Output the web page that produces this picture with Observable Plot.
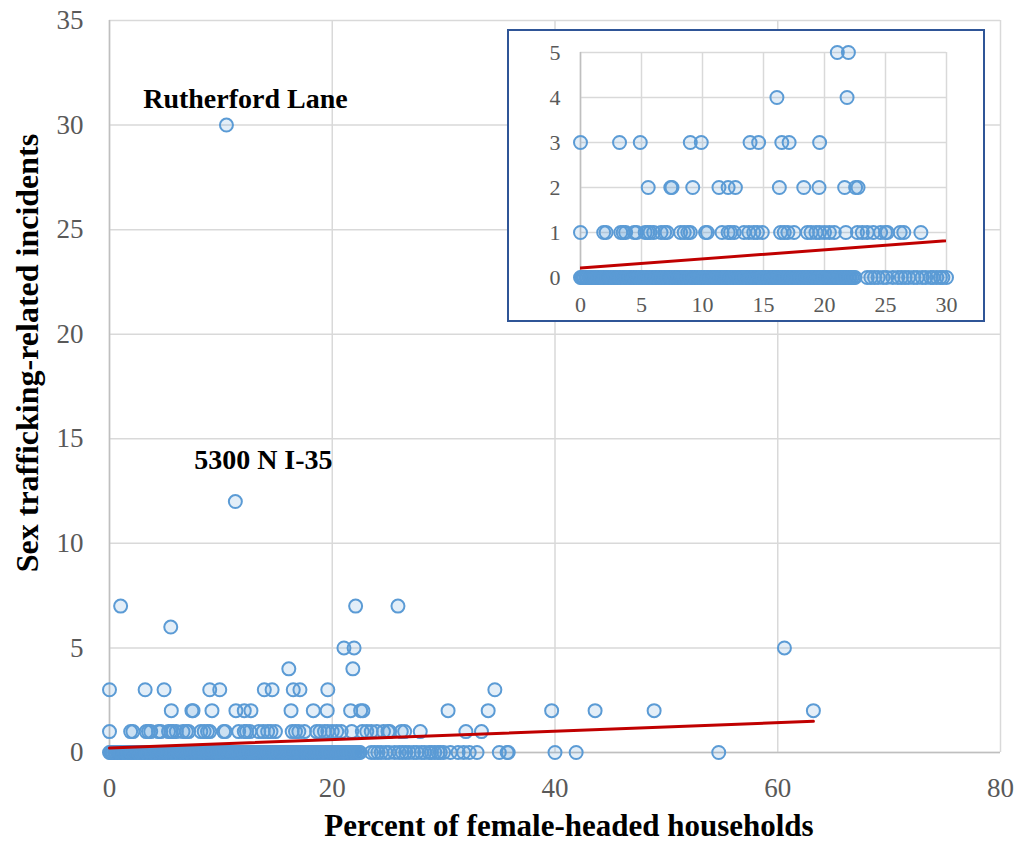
<!DOCTYPE html>
<html>
<head>
<meta charset="utf-8">
<script src="https://cdn.jsdelivr.net/npm/d3@7"></script>
<script src="https://cdn.jsdelivr.net/npm/@observablehq/plot@0.6"></script>
<style>
  html, body { margin: 0; padding: 0; background: #fff; }
  #wrap { position: relative; width: 1022px; height: 844px; }
  #inset { position: absolute; left: 507px; top: 29px; width: 478px; height: 293px;
           box-sizing: border-box; border: 2px solid #2F5597; background: #fff; }
  svg { display: block; }
</style>
</head>
<body>
<div id="wrap"><div id="main"></div><div id="inset"></div></div>
<script>
// Percent of female-headed households for tracts, grouped by number of incidents
const incidents0 = [0, 0.1, 0.2, 0.3, 0.45, 0.55, 0.7, 0.8, 0.9, 1.05, 1.2, 1.3, 1.4, 1.55, 1.65, 1.8, 1.9, 2.0, 2.15, 2.3, 2.4, 2.5, 2.6, 2.75, 2.85, 3.0, 3.1, 3.2, 3.3, 3.45, 3.6, 3.7, 3.8, 3.95, 4.05, 4.2, 4.3, 4.4, 4.5, 4.65, 4.75, 4.9, 5.0, 5.1, 5.25, 5.4, 5.5, 5.6, 5.7, 5.85, 5.95, 6.1, 6.2, 6.3, 6.45, 6.55, 6.65, 6.8, 6.9, 7.05, 7.15, 7.3, 7.4, 7.5, 7.6, 7.75, 7.85, 8.0, 8.1, 8.25, 8.35, 8.45, 8.55, 8.7, 8.8, 8.95, 9.05, 9.2, 9.3, 9.4, 9.5, 9.65, 9.75, 9.9, 10.0, 10.1, 10.2, 10.35, 10.45, 10.6, 10.7, 10.85, 10.95, 11.05, 11.15, 11.3, 11.4, 11.55, 11.65, 11.8, 11.9, 12.0, 12.1, 12.25, 12.35, 12.5, 12.6, 12.75, 12.85, 12.95, 13.05, 13.2, 13.3, 13.45, 13.55, 13.7, 13.8, 13.9, 14.0, 14.15, 14.25, 14.4, 14.5, 14.65, 14.75, 14.85, 14.95, 15.1, 15.2, 15.35, 15.45, 15.6, 15.7, 15.8, 15.9, 16.05, 16.15, 16.3, 16.4, 16.55, 16.65, 16.75, 16.85, 17.0, 17.1, 17.25, 17.35, 17.5, 17.6, 17.7, 17.8, 17.95, 18.05, 18.2, 18.3, 18.45, 18.55, 18.65, 18.75, 18.9, 19.0, 19.15, 19.25, 19.4, 19.5, 19.6, 19.7, 19.85, 19.95, 20.1, 20.2, 20.35, 20.45, 20.55, 20.65, 20.8, 20.9, 21.05, 21.15, 21.3, 21.4, 21.5, 21.6, 21.75, 21.85, 22.0, 22.1, 22.25, 22.4, 22.5, 23.5, 23.8, 24.1, 24.4, 24.8, 25.1, 25.6, 26.0, 26.3, 26.6, 26.9, 27.3, 27.6, 28.0, 28.3, 28.7, 28.9, 29.2, 29.5, 29.7, 30.0, 30.6, 31.3, 31.8, 32.3, 33.0, 35.0, 35.7, 35.8, 40.0, 41.9, 54.7];
const incidents1 = [0, 1.9, 2.1, 3.3, 3.5, 3.7, 4.4, 4.6, 5.3, 5.5, 5.7, 6.0, 6.6, 6.9, 7.1, 8.2, 8.5, 8.8, 9.0, 10.25, 10.4, 11.6, 12.1, 12.3, 12.6, 13.4, 13.8, 14.2, 14.5, 14.9, 16.4, 16.7, 17.0, 17.5, 18.6, 18.9, 19.3, 19.6, 20.0, 20.4, 20.8, 21.75, 22.7, 23.1, 23.5, 24.0, 24.6, 25.0, 25.15, 26.2, 26.5, 27.9, 32.0, 33.4];
const incidents2 = [5.55, 7.4, 7.5, 9.2, 11.35, 12.1, 12.7, 16.3, 18.3, 19.55, 21.65, 22.55, 22.75, 30.4, 34.0, 39.7, 43.6, 48.9, 63.2];
const incidents3 = [0, 3.2, 4.9, 9.0, 9.9, 13.9, 14.6, 16.5, 17.1, 19.6, 34.6];
const incidents4 = [16.1, 21.85];
const incidents5 = [21.05, 21.96, 60.6];
const incidents6 = [5.5];
const incidents7 = [1.0, 22.1, 25.9];
const incidents12 = [11.3];
const incidents30 = [10.5];

// Linear trend line (Excel), endpoints
const trendX = [0, 63.2];
const trendY = [0.21, 1.49];

// Annotations
const annoLabel = ["Rutherford Lane", "5300 N I-35"];
const annoX = [10.5, 11.3];
const annoY = [30, 12];

// Tick values
const mainXTicks = [0, 20, 40, 60, 80];
const mainYTicks = [0, 5, 10, 15, 20, 25, 30, 35];
const insetXTicks = [0, 5, 10, 15, 20, 25, 30];
const insetYTicks = [0, 1, 2, 3, 4, 5];

const rows = [[0, incidents0], [1, incidents1], [2, incidents2], [3, incidents3], [4, incidents4],
              [5, incidents5], [6, incidents6], [7, incidents7], [12, incidents12], [30, incidents30]];
const points = rows.flatMap(([y, xs]) => xs.map(x => ({x, y})));
const trend = trendX.map((x, i) => ({x, y: trendY[i]}));
const annos = annoLabel.map((label, i) => ({label, x: annoX[i], y: annoY[i]}));

const FONT = "'Liberation Serif', 'Times New Roman', serif";
const BLUE = "#5B9BD5";
const GRID = "#D9D9D9";
const AXISLINE = "#BFBFBF";
const TICKC = "#595959";

const dotOpts = {x: "x", y: "y", r: 6.5, stroke: BLUE, strokeWidth: 2, fill: BLUE, fillOpacity: 0.17};

const main = Plot.plot({
  width: 1022, height: 844,
  marginLeft: 109, marginRight: 22, marginTop: 20, marginBottom: 92,
  x: {domain: [0, 80]},
  y: {domain: [0, 35]},
  style: {fontFamily: FONT, background: "transparent", overflow: "visible"},
  marks: [
    Plot.gridX(mainXTicks, {stroke: GRID, strokeOpacity: 1, strokeWidth: 1.5}),
    Plot.gridY(mainYTicks, {stroke: GRID, strokeOpacity: 1, strokeWidth: 1.5}),
    Plot.ruleX([0], {stroke: AXISLINE, strokeWidth: 1.5}),
    Plot.ruleY([0], {stroke: AXISLINE, strokeWidth: 1.5}),
    Plot.axisX(mainXTicks, {tickSize: 0, tickPadding: 25, fontSize: 27, fill: TICKC, label: null}),
    Plot.axisY(mainYTicks, {tickSize: 0, tickPadding: 26, fontSize: 27, fill: TICKC, label: null}),
    Plot.dot(points, dotOpts),
    Plot.line(trend, {x: "x", y: "y", stroke: "#C00000", strokeWidth: 3}),
    Plot.text(annos.slice(0, 1), {x: "x", y: "y", text: "label", dx: 19, dy: -26, fontSize: 28, fontWeight: "bold", fill: "#000"}),
    Plot.text(annos.slice(1, 2), {x: "x", y: "y", text: "label", dx: 28, dy: -41, fontSize: 28, fontWeight: "bold", fill: "#000"})
  ]
});
const msvg = d3.select(main);
msvg.append("text").attr("x", 569).attr("y", 836).attr("text-anchor", "middle")
  .attr("font-family", FONT).attr("font-size", 31).attr("font-weight", "bold").attr("fill", "#000")
  .text("Percent of female-headed households");
msvg.append("text").attr("transform", "translate(38,353) rotate(-90)").attr("text-anchor", "middle")
  .attr("font-family", FONT).attr("font-size", 32).attr("font-weight", "bold").attr("fill", "#000")
  .text("Sex trafficking-related incidents");
document.getElementById("main").appendChild(main);

const insetPoints = points.filter(d => d.x <= 30.2 && d.y <= 5);
const inset = Plot.plot({
  width: 474, height: 289,
  marginLeft: 71, marginRight: 37, marginTop: 21, marginBottom: 43,
  x: {domain: [0, 30]},
  y: {domain: [0, 5]},
  style: {fontFamily: FONT, background: "#fff", overflow: "visible"},
  marks: [
    Plot.gridX(insetXTicks, {stroke: GRID, strokeOpacity: 1, strokeWidth: 1.5}),
    Plot.gridY(insetYTicks, {stroke: GRID, strokeOpacity: 1, strokeWidth: 1.5}),
    Plot.ruleX([0], {stroke: AXISLINE, strokeWidth: 1.5}),
    Plot.axisX(insetXTicks, {tickSize: 0, tickPadding: 19, fontSize: 22, fill: TICKC, label: null}),
    Plot.axisY(insetYTicks, {tickSize: 0, tickPadding: 20, fontSize: 22, fill: TICKC, label: null}),
    Plot.dot(insetPoints, dotOpts),
    Plot.line(trend, {x: "x", y: "y", stroke: "#C00000", strokeWidth: 3, clip: true})
  ]
});
document.getElementById("inset").appendChild(inset);
</script>
</body>
</html>
